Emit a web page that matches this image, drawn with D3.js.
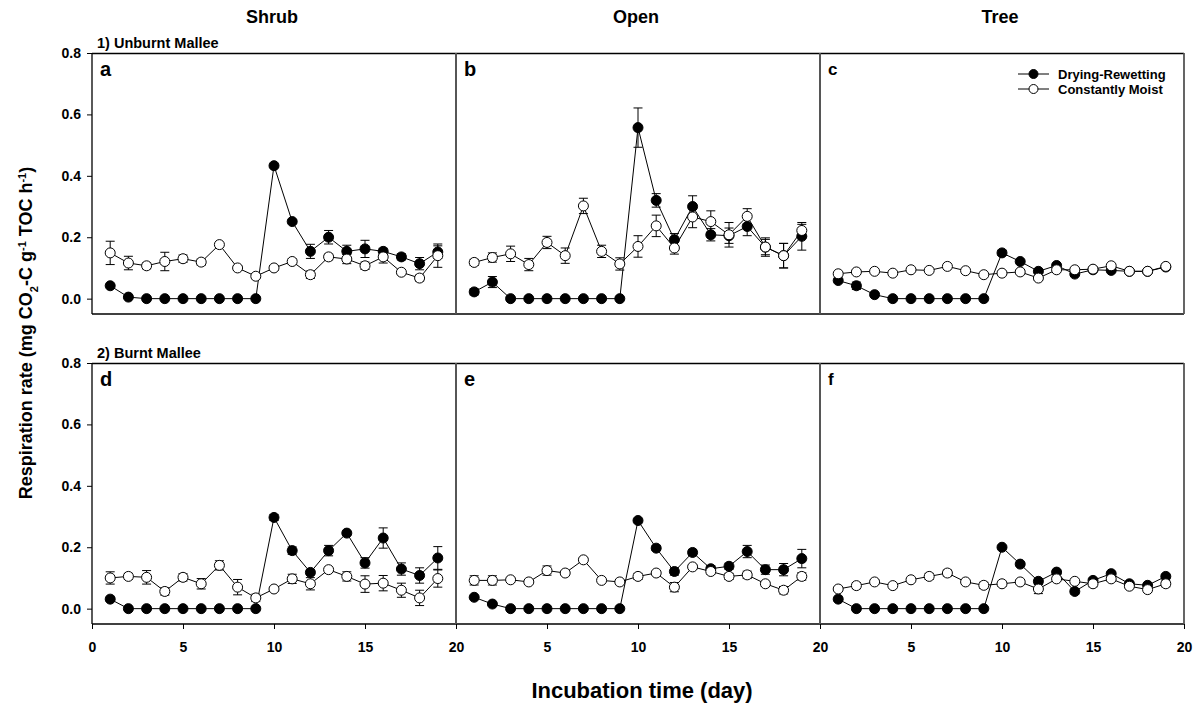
<!DOCTYPE html>
<html>
<head>
<meta charset="utf-8">
<script src="https://cdn.jsdelivr.net/npm/d3@7"></script>
<style>
  body { margin: 0; background: #fff; }
  text { font-family: Arial, "Liberation Sans", sans-serif; font-weight: bold; fill: #000; }
</style>
</head>
<body>
<div id="chart"></div>
<script>
// incubation days
var days = [1, 2, 3, 4, 5, 6, 7, 8, 9, 10, 11, 12, 13, 14, 15, 16, 17, 18, 19];

var columns = ["Shrub", "Open", "Tree"];
var rows = ["1) Unburnt Mallee", "2) Burnt Mallee"];
var panelLetters = ["a", "b", "c", "d", "e", "f"];
var seriesNames = ["Drying-Rewetting", "Constantly Moist"];
var yTicks = [0.0, 0.2, 0.4, 0.6, 0.8];
var xTicks = [0, 5, 10, 15, 20];

// a) unburnt shrub
var aDry = [0.042, 0.005, 0, 0, 0, 0, 0, 0, 0, 0.433, 0.251, 0.154, 0.200, 0.154, 0.162, 0.154, 0.136, 0.114, 0.152];
var aDryErr = [0.004, 0.003, 0, 0, 0, 0, 0, 0, 0, 0.006, 0.006, 0.023, 0.022, 0.020, 0.028, 0.010, 0.010, 0.020, 0.020];
var aMoist = [0.149, 0.116, 0.107, 0.121, 0.130, 0.119, 0.176, 0.100, 0.073, 0.100, 0.121, 0.078, 0.136, 0.129, 0.107, 0.136, 0.086, 0.067, 0.140];
var aMoistErr = [0.038, 0.022, 0.010, 0.030, 0.012, 0.010, 0.005, 0.008, 0.008, 0.008, 0.008, 0.012, 0.010, 0.015, 0.012, 0.020, 0.008, 0.010, 0.038];

// b) unburnt open
var bDry = [0.022, 0.054, 0, 0, 0, 0, 0, 0, 0, 0.557, 0.320, 0.192, 0.300, 0.208, 0.205, 0.235, 0.168, 0.140, 0.203];
var bDryErr = [0.010, 0.018, 0, 0, 0, 0, 0, 0, 0, 0.064, 0.022, 0.020, 0.035, 0.020, 0.025, 0.030, 0.025, 0.040, 0.045];
var bMoist = [0.118, 0.134, 0.146, 0.111, 0.183, 0.140, 0.302, 0.154, 0.113, 0.170, 0.237, 0.165, 0.266, 0.251, 0.208, 0.268, 0.168, 0.140, 0.222];
var bMoistErr = [0.010, 0.015, 0.025, 0.020, 0.020, 0.025, 0.025, 0.020, 0.020, 0.035, 0.035, 0.020, 0.035, 0.035, 0.040, 0.025, 0.030, 0.040, 0.020];

// c) unburnt tree
var cDry = [0.059, 0.042, 0.013, 0, 0, 0, 0, 0, 0, 0.149, 0.121, 0.089, 0.108, 0.080, 0.094, 0.092, 0.089, 0.089, 0.103];
var cDryErr = [0.005, 0.012, 0.003, 0, 0, 0, 0, 0, 0, 0.008, 0.005, 0.005, 0.005, 0.005, 0.005, 0.005, 0.005, 0.005, 0.005];
var cMoist = [0.081, 0.087, 0.089, 0.083, 0.094, 0.092, 0.105, 0.091, 0.078, 0.083, 0.087, 0.067, 0.094, 0.094, 0.096, 0.107, 0.089, 0.089, 0.105];
var cMoistErr = [0.005, 0.005, 0.005, 0.005, 0.005, 0.005, 0.005, 0.005, 0.005, 0.005, 0.005, 0.008, 0.005, 0.005, 0.005, 0.005, 0.005, 0.005, 0.005];

// d) burnt shrub
var dDry = [0.031, 0, 0, 0, 0, 0, 0, 0, 0, 0.297, 0.189, 0.118, 0.189, 0.246, 0.149, 0.230, 0.129, 0.108, 0.165];
var dDryErr = [0.005, 0, 0, 0, 0, 0, 0, 0, 0, 0.010, 0.012, 0.008, 0.017, 0.005, 0.017, 0.033, 0.020, 0.025, 0.037];
var dMoist = [0.100, 0.105, 0.102, 0.056, 0.102, 0.081, 0.141, 0.070, 0.035, 0.064, 0.097, 0.081, 0.127, 0.105, 0.080, 0.083, 0.060, 0.035, 0.098];
var dMoistErr = [0.020, 0.010, 0.022, 0.012, 0.012, 0.017, 0.015, 0.025, 0.012, 0.005, 0.015, 0.020, 0.008, 0.015, 0.027, 0.025, 0.023, 0.025, 0.028];

// e) burnt open
var eDry = [0.037, 0.015, 0, 0, 0, 0, 0, 0, 0, 0.287, 0.197, 0.121, 0.183, 0.130, 0.138, 0.186, 0.127, 0.127, 0.163];
var eDryErr = [0.004, 0.004, 0, 0, 0, 0, 0, 0, 0, 0.005, 0.008, 0.012, 0.010, 0.010, 0.010, 0.020, 0.015, 0.020, 0.030];
var eMoist = [0.092, 0.092, 0.094, 0.087, 0.124, 0.116, 0.159, 0.092, 0.087, 0.105, 0.116, 0.070, 0.136, 0.121, 0.105, 0.110, 0.081, 0.060, 0.105];
var eMoistErr = [0.015, 0.015, 0.008, 0.005, 0.015, 0.005, 0.008, 0.005, 0.005, 0.010, 0.005, 0.015, 0.008, 0.008, 0.010, 0.012, 0.008, 0.012, 0.012];

// f) burnt tree
var fDry = [0.031, 0, 0, 0, 0, 0, 0, 0, 0, 0.200, 0.145, 0.089, 0.119, 0.056, 0.092, 0.114, 0.081, 0.076, 0.105];
var fDryErr = [0.004, 0, 0, 0, 0, 0, 0, 0, 0, 0.005, 0.004, 0.008, 0.008, 0.008, 0.005, 0.005, 0.005, 0.005, 0.005];
var fMoist = [0.064, 0.075, 0.087, 0.075, 0.094, 0.105, 0.116, 0.087, 0.076, 0.081, 0.087, 0.064, 0.097, 0.089, 0.081, 0.097, 0.073, 0.062, 0.081];
var fMoistErr = [0.005, 0.010, 0.008, 0.005, 0.005, 0.010, 0.010, 0.005, 0.010, 0.008, 0.005, 0.015, 0.005, 0.005, 0.010, 0.008, 0.008, 0.008, 0.010];

var panelDry = [aDry, bDry, cDry, dDry, eDry, fDry];
var panelDryErr = [aDryErr, bDryErr, cDryErr, dDryErr, eDryErr, fDryErr];
var panelMoist = [aMoist, bMoist, cMoist, dMoist, eMoist, fMoist];
var panelMoistErr = [aMoistErr, bMoistErr, cMoistErr, dMoistErr, eMoistErr, fMoistErr];

// layout
var width = 1202, height = 709;
var left = 92, panelW = 364, panelH = 261;
var rowTops = [53, 363];
var fontFam = "Arial, 'Liberation Sans', sans-serif";

var svg = d3.select("#chart")
    .append("svg")
    .attr("width", width)
    .attr("height", height);

var y = d3.scaleLinear()
    .domain([-0.05, 0.8])
    .range([panelH, 0]);

var line = d3.line()
    .x(function (d) { return d.x; })
    .y(function (d) { return d.y; });

// column headers
columns.forEach(function (c, i) {
    svg.append("text")
        .attr("x", left + panelW * i + panelW / 2 - 2)
        .attr("y", 23)
        .attr("text-anchor", "middle")
        .style("font-size", "18px")
        .text(c);
});

// row labels
rows.forEach(function (r, i) {
    svg.append("text")
        .attr("x", 97)
        .attr("y", rowTops[i] - 5)
        .style("font-size", "14.5px")
        .text(r);
});

for (var p = 0; p < 6; p++) {
    var row = Math.floor(p / 3), col = p % 3;
    var g = svg.append("g")
        .attr("transform", "translate(" + (left + col * panelW) + "," + rowTops[row] + ")");

    var x = d3.scaleLinear()
        .domain([0, 20])
        .range([0, panelW]);

    // frame
    g.append("line").attr("x1", 0).attr("x2", panelW).attr("y1", 0.5).attr("y2", 0.5)
        .attr("stroke", "#000").attr("stroke-width", 1.3);
    g.append("line").attr("x1", 0).attr("x2", panelW).attr("y1", panelH).attr("y2", panelH)
        .attr("stroke", "#000").attr("stroke-width", 1.3);
    g.append("line").attr("x1", 0).attr("x2", 0).attr("y1", 0).attr("y2", panelH)
        .attr("stroke", col == 0 ? "#000" : "#555").attr("stroke-width", col == 0 ? 1.3 : 1.8);
    g.append("line").attr("x1", panelW).attr("x2", panelW).attr("y1", 0).attr("y2", panelH)
        .attr("stroke", "#555").attr("stroke-width", 1.8);

    // y axis on left column only
    if (col == 0) {
        var yAxis = g.append("g")
            .call(d3.axisLeft(y).tickValues(yTicks).tickSize(5).tickPadding(6).tickFormat(d3.format(".1f")));
        yAxis.select(".domain").remove();
        yAxis.selectAll("line").attr("stroke", "#000");
        yAxis.selectAll("text").style("font-size", "14px")
            .style("font-family", fontFam).style("font-weight", "bold");
    }

    // x axis on bottom row only
    if (row == 1) {
        var xAxis = g.append("g")
            .attr("transform", "translate(0," + panelH + ")")
            .call(d3.axisBottom(x).tickValues(xTicks).tickSize(5).tickPadding(13));
        xAxis.select(".domain").remove();
        xAxis.selectAll("line").attr("stroke", "#000");
        xAxis.selectAll("text").style("font-size", "14px")
            .style("font-family", fontFam).style("font-weight", "bold");
        if (col > 0) xAxis.selectAll(".tick").filter(function (d) { return d == 0; }).select("text").remove();
    }

    // panel letter
    g.append("text")
        .attr("x", 8)
        .attr("y", col == 2 ? 22 : 23)
        .style("font-size", col == 2 ? "17px" : "20px")
        .text(panelLetters[p]);

    var sets = [
        {vals: panelDry[p], err: panelDryErr[p], fill: "#000"},
        {vals: panelMoist[p], err: panelMoistErr[p], fill: "#fff"}
    ];

    sets.forEach(function (s) {
        var pts = days.map(function (d, i) {
            return {x: x(d), y: y(s.vals[i]), lo: y(s.vals[i] - s.err[i]), hi: y(s.vals[i] + s.err[i])};
        });

        // error bars
        var eb = g.append("g").selectAll("g")
            .data(pts.filter(function (d) { return d.lo - d.hi > 1; }))
            .enter().append("g")
            .attr("stroke", "#000")
            .attr("stroke-width", 1);
        eb.append("line")
            .attr("x1", function (d) { return d.x; }).attr("x2", function (d) { return d.x; })
            .attr("y1", function (d) { return d.hi; }).attr("y2", function (d) { return d.lo; });
        eb.append("line")
            .attr("x1", function (d) { return d.x - 4.5; }).attr("x2", function (d) { return d.x + 4.5; })
            .attr("y1", function (d) { return d.hi; }).attr("y2", function (d) { return d.hi; });
        eb.append("line")
            .attr("x1", function (d) { return d.x - 4.5; }).attr("x2", function (d) { return d.x + 4.5; })
            .attr("y1", function (d) { return d.lo; }).attr("y2", function (d) { return d.lo; });

        g.append("path")
            .datum(pts)
            .attr("d", line)
            .attr("fill", "none")
            .attr("stroke", "#000")
            .attr("stroke-width", 1);

        g.append("g").selectAll("circle")
            .data(pts)
            .enter()
            .append("circle")
            .attr("cx", function (d) { return d.x; })
            .attr("cy", function (d) { return d.y; })
            .attr("r", 5)
            .attr("fill", s.fill)
            .attr("stroke", "#000")
            .attr("stroke-width", 1);
    });

    // legend in panel c
    if (p == 2) {
        var lg = g.append("g").attr("transform", "translate(198,21)");
        seriesNames.forEach(function (n, i) {
            var ly = i * 15;
            lg.append("line").attr("x1", 0).attr("x2", 31).attr("y1", ly).attr("y2", ly)
                .attr("stroke", "#000").attr("stroke-width", 1);
            lg.append("circle").attr("cx", 15.5).attr("cy", ly).attr("r", 4.5)
                .attr("fill", i == 0 ? "#000" : "#fff").attr("stroke", "#000");
            lg.append("text").attr("x", 40).attr("y", ly + 4.5)
                .style("font-size", "13px")
                .text(n);
        });
    }
}

// y axis title with sub/superscripts
var yt = svg.append("text")
    .attr("transform", "translate(32,333) rotate(-90)")
    .attr("text-anchor", "middle")
    .style("font-size", "18px");
yt.append("tspan").text("Respiration rate (mg CO");
yt.append("tspan").attr("baseline-shift", "sub").style("font-size", "11px").text("2");
yt.append("tspan").text("-C g");
yt.append("tspan").attr("baseline-shift", "super").style("font-size", "11px").text("-1");
yt.append("tspan").text(" TOC h");
yt.append("tspan").attr("baseline-shift", "super").style("font-size", "11px").text("-1");
yt.append("tspan").text(")");

// x axis title
svg.append("text")
    .attr("x", 642)
    .attr("y", 698)
    .attr("text-anchor", "middle")
    .style("font-size", "22px")
    .text("Incubation time (day)");
</script>
</body>
</html>
